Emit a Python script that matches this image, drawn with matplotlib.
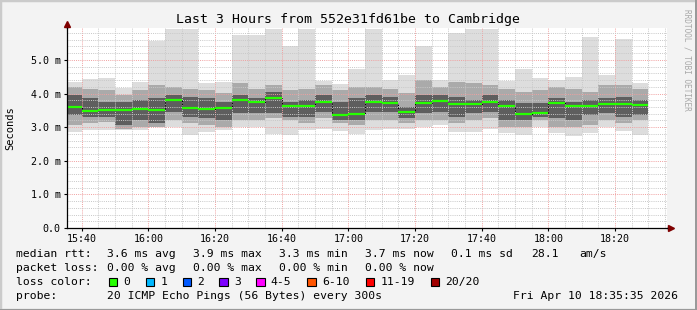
import matplotlib
matplotlib.use("Agg")
import matplotlib.pyplot as plt
import numpy as np
from matplotlib.patches import Rectangle

# ------------------------------------------------------------
# data (values in ms)
# ------------------------------------------------------------

slot_start = [
    "15:35", "15:40", "15:45", "15:50", "15:55",
    "16:00", "16:05", "16:10", "16:15", "16:20", "16:25", "16:30",
    "16:35", "16:40", "16:45", "16:50", "16:55",
    "17:00", "17:05", "17:10", "17:15", "17:20", "17:25", "17:30",
    "17:35", "17:40", "17:45", "17:50", "17:55",
    "18:00", "18:05", "18:10", "18:15", "18:20", "18:25",
]

median_ms = [3.60, 3.49, 3.52, 3.52, 3.55, 3.52, 3.82, 3.58, 3.55, 3.57, 3.82, 3.76,
             3.88, 3.64, 3.63, 3.74, 3.37, 3.39, 3.76, 3.73, 3.45, 3.73, 3.79, 3.69,
             3.69, 3.74, 3.63, 3.39, 3.43, 3.73, 3.63, 3.63, 3.69, 3.70, 3.66]

# outer smoke (min / max ping)
min_ms = [2.87, 2.93, 2.92, 2.92, 2.92, 3.01, 3.01, 2.77, 2.87, 2.93, 3.01, 2.99,
          2.81, 2.77, 2.93, 2.96, 2.90, 2.80, 2.93, 2.96, 2.96, 3.01, 3.06, 2.87,
          2.87, 2.96, 2.82, 2.77, 3.01, 2.82, 2.74, 2.82, 2.99, 2.89, 2.77]
max_ms = [4.35, 4.43, 4.45, 4.16, 4.34, 5.57, 5.91, 5.92, 4.31, 4.35, 5.74, 5.74,
          5.92, 5.42, 5.92, 4.38, 4.27, 4.73, 5.91, 4.40, 4.55, 5.42, 4.40, 5.81,
          5.91, 5.91, 4.38, 4.72, 4.45, 4.40, 4.48, 5.68, 4.55, 5.62, 4.31]

# middle smoke band
lo2_ms = [3.06, 3.11, 3.16, 2.96, 3.01, 3.01, 3.21, 3.11, 3.06, 3.01, 3.21, 3.21,
          3.26, 3.21, 3.11, 3.26, 3.11, 3.06, 3.21, 3.21, 3.11, 3.21, 3.21, 3.11,
          3.21, 3.26, 3.01, 3.01, 3.21, 3.01, 3.01, 3.06, 3.21, 3.11, 3.21]
hi2_ms = [4.20, 4.15, 4.10, 3.96, 4.10, 4.25, 4.20, 4.15, 4.10, 4.01, 4.30, 4.15,
          4.25, 4.10, 4.15, 4.25, 4.10, 4.20, 4.20, 4.15, 4.01, 4.40, 4.20, 4.35,
          4.30, 4.25, 4.15, 4.06, 4.10, 4.20, 4.15, 4.06, 4.25, 4.25, 4.15]

# dark core band
lo3_ms = [3.36, 3.31, 3.31, 3.06, 3.21, 3.11, 3.46, 3.31, 3.26, 3.21, 3.41, 3.41,
          3.41, 3.31, 3.31, 3.46, 3.21, 3.21, 3.46, 3.46, 3.26, 3.41, 3.46, 3.31,
          3.41, 3.46, 3.21, 3.21, 3.31, 3.26, 3.21, 3.36, 3.41, 3.31, 3.36]
hi3_ms = [3.96, 3.86, 3.76, 3.76, 3.81, 3.86, 3.96, 3.91, 3.86, 3.76, 3.96, 3.86,
          4.06, 3.76, 3.81, 3.96, 3.76, 3.86, 3.96, 3.91, 3.61, 3.96, 3.96, 3.91,
          3.81, 3.96, 3.81, 3.71, 3.71, 3.86, 3.76, 3.81, 3.86, 3.91, 3.81]

x_ticks = ["15:40", "16:00", "16:20", "16:40", "17:00", "17:20", "17:40", "18:00", "18:20"]
y_ticks = [0.0, 1.0, 2.0, 3.0, 4.0, 5.0]
y_tick_labels = ["0.0", "1.0 m", "2.0 m", "3.0 m", "4.0 m", "5.0 m"]

loss_labels = ["0", "1", "2", "3", "4-5", "6-10", "11-19", "20/20"]
loss_colors = ["#26ff00", "#00b8ff", "#0059ff", "#7e00ff",
               "#ff00ff", "#ff5500", "#ff0000", "#a10000"]

stats_rtt = ["3.6 ms avg", "3.9 ms max", "3.3 ms min", "3.7 ms now", "0.1 ms sd", "28.1", "am/s"]
stats_loss = ["0.00 % avg", "0.00 % max", "0.00 % min", "0.00 % now"]

# ------------------------------------------------------------
# helpers
# ------------------------------------------------------------

W, H = 697, 310
MONO = "DejaVu Sans Mono"


def minutes(hhmm):
    h, m = hhmm.split(":")
    return int(h) * 60 + int(m)


def fx(px):
    return px / W


def fy(py):
    return 1 - py / H


STEP = 5
x0 = minutes("15:35") + 35 / 60
x1 = x0 + 180

xs = np.array([minutes(t) for t in slot_start], dtype=float)
med = np.array(median_ms)

fig = plt.figure(figsize=(W / 100, H / 100), dpi=100, facecolor="#f3f3f3")

# 3d-ish frame like rrdtool
fig.patches.append(Rectangle((0, 0), 1, 1, transform=fig.transFigure, fill=False,
                             edgecolor="#cbcbcb", linewidth=2.5))
fig.patches.append(Rectangle((0, 0), 1, 0.004, transform=fig.transFigure,
                             facecolor="#999999", edgecolor="none"))
fig.patches.append(Rectangle((0.9975, 0), 0.0025, 1, transform=fig.transFigure,
                             facecolor="#999999", edgecolor="none"))

ax = fig.add_axes([fx(67), fy(228), fx(667) - fx(67), fy(28) - fy(228)])
ax.set_facecolor("white")

# smoke
ax.bar(xs, np.array(max_ms) - np.array(min_ms), bottom=min_ms, width=STEP,
       align="edge", color="#dddddd", linewidth=0, zorder=1)
ax.bar(xs, np.array(hi2_ms) - np.array(lo2_ms), bottom=lo2_ms, width=STEP,
       align="edge", color="#aaaaaa", linewidth=0, zorder=2)
ax.bar(xs, np.array(hi3_ms) - np.array(lo3_ms), bottom=lo3_ms, width=STEP,
       align="edge", color="#5e5e5e", linewidth=0, zorder=3)

# grid (drawn over the smoke, as rrdtool does)
dot = (0, (1, 1.2))
for t in np.arange(minutes("15:40"), x1, STEP):
    major = (t - minutes("15:40")) % 20 == 0
    ax.axvline(t, color="#f0a0a0" if major else "#c8c8c8", lw=0.7, ls=dot, zorder=4)
for v in np.arange(0.2, 5.95, 0.2):
    major = abs(v - round(v)) < 1e-6
    ax.axhline(v, color="#f0a0a0" if major else "#c8c8c8", lw=0.7, ls=dot, zorder=4)

# median line
edges = np.append(xs, xs[-1] + STEP)
ax.step(edges, np.append(med, med[-1]), where="post", color="black",
        lw=0.7, ls=(0, (1.5, 1.5)), zorder=5)
ax.hlines(med, xs, xs + STEP, color="#26ff00", lw=1.6, zorder=6)

ax.set_xlim(x0, x1)
ax.set_ylim(0, 5.95)

ax.set_xticks([minutes(t) for t in x_ticks])
ax.set_xticklabels(x_ticks)
ax.set_yticks(y_ticks)
ax.set_yticklabels(y_tick_labels)
ax.tick_params(axis="both", length=2, width=0.8, direction="out",
               labelsize=7.2, pad=2.5, colors="black")
for lab in ax.get_xticklabels() + ax.get_yticklabels():
    lab.set_family(MONO)

for s in ["top", "right"]:
    ax.spines[s].set_visible(False)
for s in ["left", "bottom"]:
    ax.spines[s].set_linewidth(0.9)
    ax.spines[s].set_zorder(7)

# axis arrows
ax.plot([0, 0], [1, 1.02], transform=ax.transAxes, color="black", lw=0.9, clip_on=False)
ax.plot([1, 1.006], [0, 0], transform=ax.transAxes, color="black", lw=0.9, clip_on=False)
ax.plot([0], [1.02], marker="^", ms=4.5, color="#7f0000", transform=ax.transAxes, clip_on=False)
ax.plot([1.006], [0], marker=">", ms=4.5, color="#7f0000", transform=ax.transAxes, clip_on=False)

# texts
fig.text(fx(347.5), fy(19), "Last 3 Hours from 552e31fd61be to Cambridge",
         family=MONO, fontsize=9.5, ha="center", va="center")
fig.text(fx(10), fy(128), "Seconds", family=MONO, fontsize=7.5,
         rotation=90, ha="center", va="center")
fig.text(fx(687), fy(60), "RRDTOOL / TOBI OETIKER", family=MONO, fontsize=5.6,
         rotation=270, ha="center", va="center", color="#a8a8a8")

FS = 8.2
row_y = [254.3, 268.3, 282.0, 296.0]
col_x = [107, 193, 279, 365, 451, 531, 579]

fig.text(fx(16), fy(row_y[0]), "median rtt:", family=MONO, fontsize=FS, va="center")
for x, s in zip(col_x, stats_rtt):
    fig.text(fx(x), fy(row_y[0]), s, family=MONO, fontsize=FS, va="center")

fig.text(fx(16), fy(row_y[1]), "packet loss:", family=MONO, fontsize=FS, va="center")
for x, s in zip(col_x, stats_loss):
    fig.text(fx(x), fy(row_y[1]), s, family=MONO, fontsize=FS, va="center")

fig.text(fx(16), fy(row_y[2]), "loss color:", family=MONO, fontsize=FS, va="center")
box_x = [108.7, 145.7, 182.7, 219.3, 256.0, 307.3, 365.7, 430.7]
for bx, lab, c in zip(box_x, loss_labels, loss_colors):
    fig.patches.append(Rectangle((fx(bx), fy(row_y[2] + 4.3)), 8.7 / W, 8.7 / H,
                                 transform=fig.transFigure, facecolor=c,
                                 edgecolor="black", linewidth=0.8))
    fig.text(fx(bx + 14.7), fy(row_y[2]), lab, family=MONO, fontsize=FS, va="center")

fig.text(fx(16), fy(row_y[3]), "probe:", family=MONO, fontsize=FS, va="center")
fig.text(fx(107), fy(row_y[3]), "20 ICMP Echo Pings (56 Bytes) every 300s",
         family=MONO, fontsize=FS, va="center")
fig.text(fx(513), fy(row_y[3]), "Fri Apr 10 18:35:35 2026",
         family=MONO, fontsize=FS, va="center")

fig.savefig("out.png", dpi=100, facecolor=fig.get_facecolor())
